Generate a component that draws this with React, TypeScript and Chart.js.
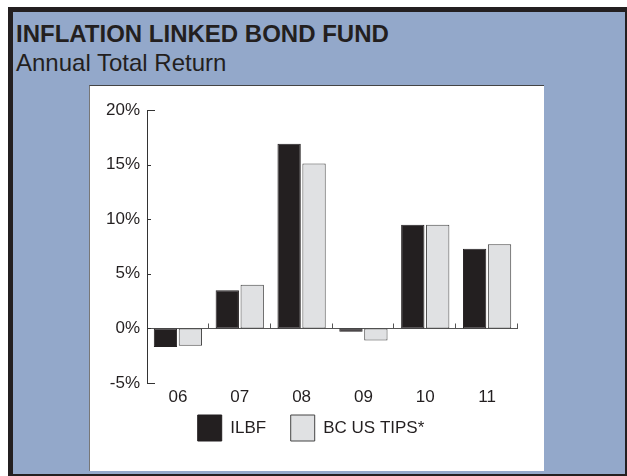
import React, { useEffect, useRef } from "react";
import { Chart, registerables } from "chart.js";

Chart.register(...registerables);

const categories = ["06", "07", "08", "09", "10", "11"];
const ilbfValues = [-1.7, 3.5, 16.9, -0.3, 9.5, 7.3];
const tipsValues = [-1.6, 4.0, 15.1, -1.1, 9.5, 7.7];
const seriesLabels = ["ILBF", "BC US TIPS*"];
const yMin = -5;
const yMax = 20;
const yStep = 5;

const FONT = "'Liberation Sans', Arial, Helvetica, sans-serif";

const decor = {
  id: "decor",
  afterLayout(chart: any) {
    // let the category labels extend below the (short) x-axis box without clipping
    const x = chart.scales.x;
    x.bottom = x.top + 30;
  },
  beforeDatasetsDraw(chart: any) {
    const { ctx, chartArea, scales } = chart;
    const x = scales.x;
    const y = scales.y;
    const y0 = Math.round(y.getPixelForValue(0)) + 0.5;
    ctx.save();
    ctx.strokeStyle = "#555";
    ctx.lineWidth = 1;
    ctx.beginPath();
    ctx.moveTo(chartArea.left, y0);
    ctx.lineTo(chartArea.right, y0);
    const n = chart.data.labels.length;
    for (let i = 0; i < n; i++) {
      const bx =
        i < n - 1
          ? (x.getPixelForTick(i) + x.getPixelForTick(i + 1)) / 2
          : chartArea.right;
      const px = Math.round(bx) - 0.5;
      ctx.moveTo(px, y0);
      ctx.lineTo(px, y0 - 5);
    }
    ctx.stroke();
    ctx.strokeStyle = "#333";
    ctx.beginPath();
    y.ticks.forEach((t: any) => {
      const py = Math.round(y.getPixelForValue(t.value)) + 0.5;
      const len = t.value === yMin || t.value === yMax ? 8 : 4;
      ctx.moveTo(chartArea.left, py);
      ctx.lineTo(chartArea.left + len, py);
    });
    ctx.stroke();
    ctx.restore();
  },
};

export default function App() {
  const ref = useRef<HTMLCanvasElement>(null);
  useEffect(() => {
    if (!ref.current) return;
    const chart = new Chart(ref.current, {
      type: "bar",
      data: {
        labels: categories,
        datasets: [
          {
            label: seriesLabels[0],
            data: ilbfValues,
            backgroundColor: "#231f20",
            borderColor: "#231f20",
            borderWidth: 1,
            borderSkipped: false,
            categoryPercentage: 0.806,
            barPercentage: 0.936,
          },
          {
            label: seriesLabels[1],
            data: tipsValues,
            backgroundColor: "#e0e1e3",
            borderColor: "#444",
            borderWidth: 1,
            borderSkipped: false,
            categoryPercentage: 0.806,
            barPercentage: 0.936,
          },
        ],
      },
      options: {
        responsive: false,
        animation: false,
        devicePixelRatio: 1,
        layout: { padding: { top: 25, right: 26, left: 15, bottom: 20 } },
        plugins: {
          tooltip: { enabled: false },
          legend: {
            position: "bottom",
            labels: {
              boxWidth: 24,
              boxHeight: 26,
              color: "#231f20",
              font: { family: FONT, size: 17 },
              padding: 24.6,
            },
          },
        },
        scales: {
          x: {
            grid: { display: false, drawTicks: false },
            border: { display: false },
            ticks: {
              color: "#231f20",
              font: { family: FONT, size: 17 },
              padding: 4,
            },
            afterFit(scale: any) {
              scale.height = 7.4;
            },
          },
          y: {
            min: yMin,
            max: yMax,
            grid: { display: false, drawTicks: false },
            border: { display: true, color: "#333", width: 1 },
            ticks: {
              stepSize: yStep,
              color: "#231f20",
              font: { family: FONT, size: 17 },
              padding: 7,
              callback: (v: any) => `${v}%`,
            },
            afterFit(scale: any) {
              scale.width = 43;
            },
          },
        },
      },
      plugins: [decor],
    });
    return () => chart.destroy();
  }, []);

  return (
    <div
      style={{
        position: "absolute",
        left: 0,
        top: 0,
        width: 627,
        height: 476,
        background: "#fff",
        overflow: "hidden",
        fontFamily: FONT,
      }}
    >
      <div style={{ position: "absolute", left: 8, top: 7, width: 619, height: 469, background: "#231f20" }} />
      <div style={{ position: "absolute", left: 13, top: 12, width: 612, height: 462, background: "#93a8ca" }} />
      <div
        style={{
          position: "absolute",
          left: 16,
          top: 22.4,
          fontSize: 24,
          lineHeight: "24px",
          fontWeight: "bold",
          color: "#231f20",
          whiteSpace: "nowrap",
        }}
      >
        INFLATION LINKED BOND FUND
      </div>
      <div
        style={{
          position: "absolute",
          left: 16,
          top: 50.7,
          fontSize: 24,
          lineHeight: "24px",
          color: "#231f20",
          whiteSpace: "nowrap",
        }}
      >
        Annual Total Return
      </div>
      <div
        style={{
          position: "absolute",
          left: 89,
          top: 85,
          width: 455,
          height: 386,
          background: "#fff",
          borderTop: "1px solid #444",
          borderLeft: "1px solid #777",
          boxSizing: "border-box",
        }}
      />
      <canvas
        ref={ref}
        width={455}
        height={386}
        style={{ position: "absolute", left: 89, top: 85, width: 455, height: 386 }}
      />
    </div>
  );
}
